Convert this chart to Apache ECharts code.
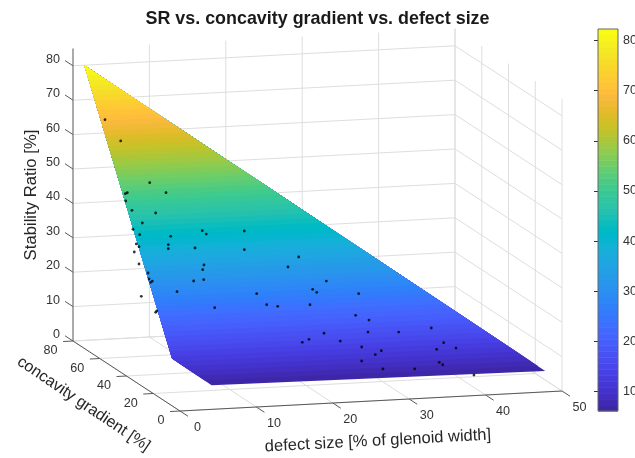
<!DOCTYPE html>
<html><head><meta charset="utf-8">
<style>html,body{margin:0;padding:0;background:#fff}#c{width:635px;height:458px}</style>
<script src="https://cdn.jsdelivr.net/npm/echarts@6/dist/echarts.min.js"></script>
</head><body><div id="c"></div>
<script>
const titleText = "SR vs. concavity gradient vs. defect size";
const defectName = "defect size [% of glenoid width]";
const concavityName = "concavity gradient [%]";
const srName = "Stability Ratio [%]";
const defectTicks = [0,10,20,30,40,50];
const concavityTicks = [0,20,40,60,80];
const srTicks = [0,10,20,30,40,50,60,70,80];
const colorbarTicks = [10,20,30,40,50,60,70,80];
const srAxisTop = 85;
const srMin = 6.1, srMax = 82.3;

// surface corners
const surfaceDefect = [0, 0.62, 4.7, 47.8];
const surfaceConcavity = [71.4, 9.5, 3.2, 0];
const surfaceSR = [82.3, 12.8, 6.1, 6.1];

// measured points
const pointDefect = [0.66,1.90,4.10,5.82,0.88,0.59,0.38,0.84,3.77,1.70,0.29,9.08,9.47,14.43,0.95,4.85,0.18,0.43,4.24,4.09,7.53,13.76,0,0,8.06,7.73,20.44,18.71,0.63,0.54,0.89,0.64,6.17,7.50,3.66,13.76,0,21.06,21.47,14.64,15.98,20.16,7.89,0.37,0.19,17.83,18.79,23.10,26.78,25.61,27.14,26.58,30.50,34.81,20.92,22.72,25.24,27.61,26.70,34.73,35.86,37.24,24.73,34.59,34.94,27.16,31.21,38.56];
const pointConcavity = [59.86,55.19,46.06,43.70,44.42,44.25,42.74,40.71,39.72,37.91,36.78,35.21,34.45,34.37,35.55,34.64,33.70,33.09,32.96,32.14,31.78,30.52,34.17,30.65,28.12,27.18,28.01,26.15,27.51,26.25,25.78,25.54,25.02,25.10,23.13,21.24,28.93,21.11,20.41,18.79,18.25,17.98,19.13,19.53,19.28,10.39,10.88,22.56,19.35,14.96,13.74,11.29,10.72,10.95,11.85,9.95,8.33,7.20,6.49,6.46,7.69,6.37,5.44,3.74,3.18,3.40,2.82,0.48];
const pointSR = [69.38,64.24,54.17,51.66,52.05,51.84,50.13,47.89,47.01,44.81,43.42,42.40,41.58,41.90,42.10,41.40,39.97,39.30,39.46,38.53,38.42,37.52,37.53,34.94,34.35,33.26,35.26,33.03,33.04,31.63,31.12,30.83,30.71,30.91,28.38,27.10,25.99,27.56,26.81,24.42,23.92,23.97,24.24,24.06,23.77,15.26,15.89,29.35,26.06,21.03,19.79,16.99,16.68,17.30,17.15,15.16,13.55,12.49,11.61,12.24,13.73,12.35,10.27,9.18,8.58,8.18,7.87,5.85];

// parula, 64 levels
const parula = [[0.2422,0.1504,0.6603],[0.2504,0.1650,0.7076],[0.2578,0.1818,0.7511],[0.2647,0.1978,0.7952],[0.2706,0.2147,0.8364],[0.2751,0.2342,0.8710],[0.2783,0.2559,0.8991],[0.2803,0.2782,0.9221],[0.2813,0.3006,0.9414],[0.2810,0.3228,0.9579],[0.2795,0.3447,0.9717],[0.2760,0.3667,0.9829],[0.2699,0.3892,0.9906],[0.2602,0.4123,0.9952],[0.2440,0.4358,0.9988],[0.2206,0.4603,0.9973],[0.1963,0.4847,0.9892],[0.1834,0.5074,0.9798],[0.1786,0.5289,0.9682],[0.1764,0.5499,0.9520],[0.1687,0.5703,0.9359],[0.1540,0.5902,0.9218],[0.1460,0.6091,0.9079],[0.1380,0.6276,0.8973],[0.1248,0.6459,0.8883],[0.1113,0.6635,0.8763],[0.0952,0.6798,0.8598],[0.0689,0.6948,0.8394],[0.0297,0.7082,0.8163],[0.0036,0.7203,0.7917],[0.0067,0.7312,0.7660],[0.0433,0.7411,0.7394],[0.0964,0.7500,0.7120],[0.1408,0.7584,0.6842],[0.1717,0.7670,0.6554],[0.1938,0.7758,0.6251],[0.2161,0.7843,0.5923],[0.2470,0.7918,0.5567],[0.2906,0.7973,0.5188],[0.3406,0.8008,0.4789],[0.3909,0.8029,0.4354],[0.4456,0.8024,0.3909],[0.5044,0.7993,0.3480],[0.5616,0.7942,0.3045],[0.6174,0.7876,0.2612],[0.6720,0.7793,0.2227],[0.7242,0.7698,0.1910],[0.7738,0.7598,0.1646],[0.8203,0.7498,0.1535],[0.8634,0.7406,0.1596],[0.9035,0.7330,0.1774],[0.9393,0.7288,0.2100],[0.9728,0.7298,0.2394],[0.9956,0.7434,0.2371],[0.9970,0.7659,0.2199],[0.9952,0.7893,0.2028],[0.9892,0.8136,0.1885],[0.9786,0.8386,0.1766],[0.9676,0.8639,0.1643],[0.9610,0.8890,0.1537],[0.9597,0.9135,0.1423],[0.9628,0.9373,0.1265],[0.9691,0.9606,0.1064],[0.9769,0.9839,0.0805]];
const cmap = parula.map(c => 'rgb(' + c.map(v => Math.round(v*255)).join(',') + ')');
const bandCount = cmap.length;
const bandEdge = i => srMin + (srMax - srMin) * i / bandCount;

// orthographic view of the 3D axes box
const view = {ox:180, oy:411, xx:7.64, xy:-0.4, yx:-1.3375, yy:-0.875, zy:-3.44};
const project = (x,y,z) => [view.ox + view.xx*x + view.yx*y, view.oy + view.xy*x + view.yy*y + view.zy*z];

const FONT = '"Liberation Sans", Arial, sans-serif';
const GRID = '#dedede', DARK = '#595959', TEXT = '#333333';

// line rows: [x1,y1,z1,x2,y2,z2,kind]
const rows = [];
const xMax = defectTicks[defectTicks.length-1], yMax = concavityTicks[concavityTicks.length-1];
defectTicks.forEach(v => {
  rows.push([v,0,0,v,yMax,0,0]);
  rows.push([v,yMax,0,v,yMax,srAxisTop,0]);
});
concavityTicks.forEach(v => {
  rows.push([0,v,0,xMax,v,0,0]);
  rows.push([xMax,v,0,xMax,v,srAxisTop,0]);
});
srTicks.forEach(v => {
  rows.push([0,yMax,v,xMax,yMax,v,0]);
  rows.push([xMax,0,v,xMax,yMax,v,0]);
});
const axisRows = [];
axisRows.push([0,yMax,0,0,yMax,srAxisTop,2]);
axisRows.push([0,0,0,xMax,0,0,1]);
axisRows.push([0,0,0,0,yMax,0,1]);
defectTicks.forEach(v => axisRows.push([v,0,0,v,-6,0,1]));
concavityTicks.forEach(v => axisRows.push([0,v,0,-1.3,v,0,1]));
srTicks.forEach(v => axisRows.push([0,yMax,v,0,yMax+6,v,1]));

const lineItem = (p, api) => {
  const a = api.coord(project(api.value(0),api.value(1),api.value(2)));
  const b = api.coord(project(api.value(3),api.value(4),api.value(5)));
  const k = api.value(6);
  return {type:'line', shape:{x1:a[0],y1:a[1],x2:b[0],y2:b[1]},
    style:{stroke:[GRID,DARK,'#999999'][k], lineWidth:k===2?1.6:1, fill:null}};
};

// surface: quad clipped to SR >= band edge, painted low to high
function clipAbove(level){
  const out = [], n = surfaceSR.length;
  for (let i=0;i<n;i++){
    const j=(i+1)%n, zi=surfaceSR[i], zj=surfaceSR[j];
    if (zi>=level) out.push([surfaceDefect[i],surfaceConcavity[i],zi]);
    if ((zi>=level)!==(zj>=level)){
      const t=(level-zi)/(zj-zi);
      out.push([surfaceDefect[i]+t*(surfaceDefect[j]-surfaceDefect[i]),
                surfaceConcavity[i]+t*(surfaceConcavity[j]-surfaceConcavity[i]),level]);
    }
  }
  return out;
}
const bandIndex = cmap.map((c,i)=>[i, bandEdge(i), bandEdge(i+1)]);

const labelRows = [
  ...srTicks.map(v=>[0,yMax,v,String(v),-13,-6.5,'right']),
  ...concavityTicks.map(v=>[0,v,0,String(v),-15.5,10,'right']),
  ...defectTicks.map(v=>[v,0,0,String(v),17.5,17,'center'])
];

const option = {
  animation:false,
  backgroundColor:'#fff',
  title:{text:titleText,left:'center',top:10,padding:0,textStyle:{fontFamily:FONT,fontWeight:'bold',fontSize:17.9,color:'#1a1a1a'}},
  grid:[
    {left:0,top:0,width:635,height:458,outerBoundsMode:'none'},
    {left:598,top:29,width:20,height:382,outerBoundsMode:'none'}
  ],
  xAxis:[
    {gridIndex:0,type:'value',min:0,max:635,show:false},
    {gridIndex:1,type:'value',min:0,max:1,show:false}
  ],
  yAxis:[
    {gridIndex:0,type:'value',min:0,max:458,inverse:true,show:false},
    {gridIndex:1,type:'value',min:srMin,max:srMax,position:'right',splitLine:{show:false},
     axisLine:{show:false},
     axisTick:{show:true,inside:true,length:4,customValues:colorbarTicks,lineStyle:{color:'#333'}},
     axisLabel:{show:true,margin:5,customValues:colorbarTicks,fontFamily:FONT,fontSize:12.6,color:TEXT}}
  ],
  series:[
    {type:'custom',name:'grid',coordinateSystem:'cartesian2d',xAxisIndex:0,yAxisIndex:0,clip:false,silent:true,z:1,
     data:rows,renderItem:lineItem},
    {type:'custom',name:'surface',coordinateSystem:'cartesian2d',xAxisIndex:0,yAxisIndex:0,clip:false,silent:true,z:2,
     data:bandIndex,
     renderItem:(p,api)=>{
       const i=api.value(0), poly=clipAbove(bandEdge(i));
       if (poly.length<3) return null;
       return {type:'polygon',shape:{points:poly.map(q=>api.coord(project(q[0],q[1],q[2])))},style:{fill:cmap[i]}};
     }},
    {type:'scatter',name:'measurements',xAxisIndex:0,yAxisIndex:0,symbol:'circle',symbolSize:2.8,silent:true,z:3,
     itemStyle:{color:'#000'},
     data:pointSR.map((z,i)=>project(pointDefect[i],pointConcavity[i],z))},
    {type:'custom',name:'axes',coordinateSystem:'cartesian2d',xAxisIndex:0,yAxisIndex:0,clip:false,silent:true,z:4,
     data:axisRows,renderItem:lineItem},
    {type:'custom',name:'ticklabels',coordinateSystem:'cartesian2d',xAxisIndex:0,yAxisIndex:0,clip:false,silent:true,z:5,
     data:labelRows.map(r=>r.slice(0,3)),
     renderItem:(p,api)=>{
       const r=labelRows[p.dataIndex], a=api.coord(project(r[0],r[1],r[2]));
       return {type:'text',x:a[0]+r[4],y:a[1]+r[5],style:{text:r[3],align:r[6],verticalAlign:'middle',font:'12.6px '+FONT,fill:TEXT}};
     }},
    {type:'custom',name:'colorbar',coordinateSystem:'cartesian2d',xAxisIndex:1,yAxisIndex:1,silent:true,z:2,
     data:bandIndex,
     renderItem:(p,api)=>{
       const a=api.coord([0,api.value(2)]), b=api.coord([1,api.value(1)]);
       return {type:'rect',shape:{x:a[0],y:a[1],width:b[0]-a[0],height:b[1]-a[1]+0.5},style:{fill:cmap[api.value(0)]}};
     }},
    {type:'custom',name:'colorbarframe',coordinateSystem:'cartesian2d',xAxisIndex:1,yAxisIndex:1,clip:false,silent:true,z:6,
     data:[[srMin,srMax]],
     renderItem:(p,api)=>{
       const a=api.coord([0,api.value(1)]), b=api.coord([1,api.value(0)]);
       return {type:'rect',shape:{x:a[0],y:a[1],width:b[0]-a[0],height:b[1]-a[1]},style:{fill:null,stroke:'#666',lineWidth:1}};
     }}
  ],
  graphic:[
    {type:'text',x:31,y:195,rotation:Math.PI/2,silent:true,style:{text:srName,align:'center',verticalAlign:'middle',font:'16.7px '+FONT,fill:'#262626'}},
    {type:'text',x:83.5,y:404,rotation:-34*Math.PI/180,silent:true,style:{text:concavityName,align:'center',verticalAlign:'middle',font:'16px '+FONT,fill:'#262626'}},
    {type:'text',x:378,y:441,rotation:3*Math.PI/180,silent:true,style:{text:defectName,align:'center',verticalAlign:'middle',font:'16.5px '+FONT,fill:'#262626'}}
  ]
};
const chart = echarts.init(document.getElementById('c'),null,{renderer:'canvas'});
chart.setOption(option);
</script></body></html>
